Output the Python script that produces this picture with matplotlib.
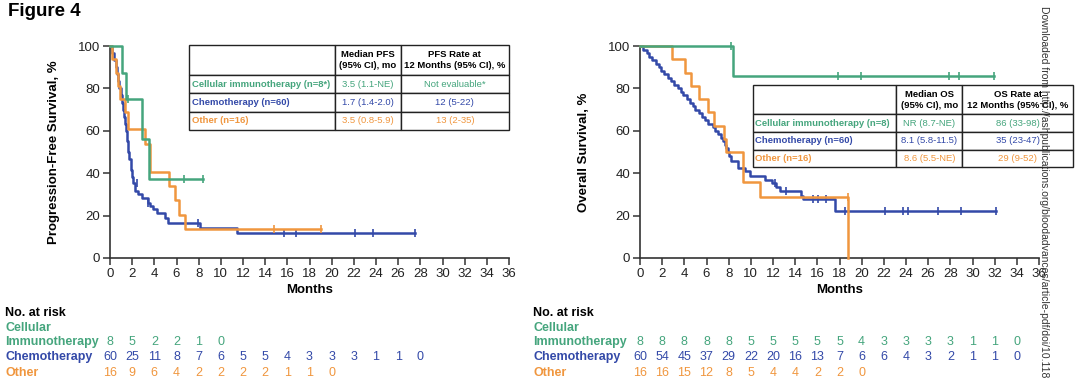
import numpy as np
import matplotlib.pyplot as plt
from matplotlib.table import Table
from matplotlib.transforms import blended_transform_factory

plt.rcParams['font.family'] = ['Liberation Sans', 'DejaVu Sans']

GREEN = '#45a57d'
BLUE = '#3349a8'
ORANGE = '#f0963e'

# ---- PFS (left) ----
pfs_ci_t = [0, 1.05, 1.4, 2.85, 3.5, 8.4]
pfs_ci_s = [100, 87.5, 75, 56.25, 37.5, 37.5]
pfs_ci_cens_t = [1.65, 6.7, 8.4]
pfs_ci_cens_s = [75, 37.5, 37.5]

pfs_ch_t = [0, 0.2, 0.35, 0.5, 0.6, 0.75, 0.85, 0.95, 1.05, 1.15, 1.25, 1.35, 1.45, 1.55, 1.65,
            1.75, 1.85, 1.95, 2.1, 2.25, 2.5, 2.9, 3.4, 3.6, 3.9, 4.25, 5.0, 5.25, 8.1, 11.5, 27.5]
pfs_ch_s = [100, 96.7, 93.3, 90, 86.7, 83.3, 80, 76.7, 73.3, 70, 66.7, 63.3, 60, 55, 50,
            46.7, 41.7, 38.3, 35.5, 31.7, 30, 28.3, 26, 24.5, 23, 21.4, 19, 16.7, 14.3, 11.9, 11.9]
pfs_ch_cens_t = [2.4, 3.4, 7.9, 15.7, 16.8, 22.1, 23.7, 27.5]
pfs_ch_cens_s = [35.5, 26, 16.7, 11.9, 11.9, 11.9, 11.9, 11.9]

pfs_ot_t = [0, 0.15, 0.5, 0.7, 0.9, 1.35, 1.6, 3.2, 3.6, 5.35, 5.9, 6.2, 6.8, 19.0]
pfs_ot_s = [100, 93.75, 87.5, 81.25, 75, 68.75, 61, 54, 40.5, 34, 27.5, 20.3, 13.5, 13.5]
pfs_ot_cens_t = [14.8, 19.0]
pfs_ot_cens_s = [13.5, 13.5]

# ---- OS (right) ----
os_ci_t = [0, 8.4, 31.9]
os_ci_s = [100, 85.7, 85.7]
os_ci_cens_t = [8.2, 17.9, 19.9, 27.9, 28.8, 31.9]
os_ci_cens_s = [100, 85.7, 85.7, 85.7, 85.7, 85.7]

os_ch_t = [0, 0.3, 0.6, 0.8, 1.1, 1.4, 1.7, 1.9, 2.2, 2.5,
           2.8, 3.1, 3.4, 3.7, 3.9, 4.2, 4.5, 4.8, 5.0, 5.3,
           5.6, 5.9, 6.1, 6.6, 6.8, 7.0, 7.3, 7.5, 7.7, 7.8,
           7.9, 8.0, 8.2, 8.85, 9.45, 9.9, 11.3, 11.9, 12.3, 12.6,
           14.5, 14.7, 17.6, 32.1]
os_ch_s = [100, 98.3, 96.7, 95, 93.3, 91.7, 90, 88.3, 86.7, 85,
           83.3, 81.7, 80, 78.3, 76.7, 75, 73.3, 71.7, 70, 68.3,
           66.7, 65, 63.3, 61.7, 60, 58.3, 56.7, 55, 53.3, 51.7,
           50, 48.3, 45.6, 42.5, 41, 38.6, 37, 35.5, 33.6, 31.5,
           29.2, 27.7, 22.2, 22.2]
os_ch_cens_t = [12.2, 13.2, 15.6, 16.1, 16.8, 18.5, 22.1, 23.7, 24.2, 26.9, 29.0, 32.1]
os_ch_cens_s = [35.5, 31.5, 27.7, 27.7, 27.7, 22.2, 22.2, 22.2, 22.2, 22.2, 22.2, 22.2]

os_ot_t = [0, 2.9, 4.1, 4.6, 5.3, 6.1, 6.7, 7.6, 7.8, 9.3, 10.8, 18.8]
os_ot_s = [100, 93.75, 87.5, 81.25, 75, 68.75, 62.5, 56.25, 50, 35.7, 28.6, 0]
os_ot_cens_t = [18.8]
os_ot_cens_s = [28.6]

# ---- numbers at risk ----
risk_months = list(range(0, 36, 2))
pfs_risk_ci = [8, 5, 2, 2, 1, 0]
pfs_risk_ch = [60, 25, 11, 8, 7, 6, 5, 5, 4, 3, 3, 3, 1, 1, 0]
pfs_risk_ot = [16, 9, 6, 4, 2, 2, 2, 2, 1, 1, 0]
os_risk_ci = [8, 8, 8, 8, 8, 5, 5, 5, 5, 5, 4, 3, 3, 3, 3, 1, 1, 0]
os_risk_ch = [60, 54, 45, 37, 29, 22, 20, 16, 13, 7, 6, 6, 4, 3, 2, 1, 1, 0]
os_risk_ot = [16, 16, 15, 12, 8, 5, 4, 4, 2, 2, 0]

# ---- tables ----
pfs_table = [['', 'Median PFS\n(95% CI), mo', 'PFS Rate at\n12 Months (95% CI), %'],
             ['Cellular immunotherapy (n=8*)', '3.5 (1.1-NE)', 'Not evaluable*'],
             ['Chemotherapy (n=60)', '1.7 (1.4-2.0)', '12 (5-22)'],
             ['Other (n=16)', '3.5 (0.8-5.9)', '13 (2-35)']]
os_table = [['', 'Median OS\n(95% CI), mo', 'OS Rate at\n12 Months (95% CI), %'],
            ['Cellular immunotherapy (n=8)', 'NR (8.7-NE)', '86 (33-98)'],
            ['Chemotherapy (n=60)', '8.1 (5.8-11.5)', '35 (23-47)'],
            ['Other (n=16)', '8.6 (5.5-NE)', '29 (9-52)']]
row_colors = [GREEN, BLUE, ORANGE]


def style_axes(ax, ylabel):
    ax.set_xlim(0, 36)
    ax.set_ylim(0, 100)
    ax.set_xticks(np.arange(0, 37, 2))
    ax.set_yticks(np.arange(0, 101, 20))
    ax.spines['top'].set_visible(False)
    ax.spines['right'].set_visible(False)
    for sp in ['left', 'bottom']:
        ax.spines[sp].set_linewidth(1.2)
        ax.spines[sp].set_color('#333333')
    ax.tick_params(direction='out', length=5, width=1.1, color='#333333',
                   labelsize=9.5, labelcolor='#222222', pad=2)
    ax.set_xlabel('Months', fontweight='bold', fontsize=9.5, labelpad=3)
    ax.set_ylabel(ylabel, fontweight='bold', fontsize=9.5)
    ax.yaxis.set_label_coords(-0.125, 0.5)


def draw_curve(ax, t, s, ct, cs, color):
    ax.step(t, s, where='post', color=color, lw=1.8, clip_on=False, zorder=3)
    ax.plot(ct, cs, ls='none', marker='|', ms=6, mew=1.2, color=color,
            clip_on=False, zorder=3)


def add_table(ax, rows, bbox, col_w):
    tab = Table(ax, bbox=bbox)
    tab.auto_set_font_size(False)
    heights = [1.64, 1, 1, 1]
    for r, row in enumerate(rows):
        for c, txt in enumerate(row):
            cell = tab.add_cell(r, c, width=col_w[c], height=heights[r], text=txt,
                                loc='left' if c == 0 else 'center',
                                facecolor='white', edgecolor='#222222')
            cell.set_linewidth(1.0)
            if c == 0:
                cell.PAD = 0.02
            color = 'black' if r == 0 else row_colors[r - 1]
            bold = (r == 0) or (c == 0)
            cell.get_text().set(fontsize=6.8, color=color,
                                fontweight='bold' if bold else 'normal',
                                linespacing=1.3)
    tab.set_zorder(5)
    ax.add_table(tab)


fig = plt.figure(figsize=(10.8, 3.86), dpi=100)
axL = fig.add_axes([110 / 1080, 1 - 258 / 386, 399 / 1080, 212 / 386])
axR = fig.add_axes([640 / 1080, 1 - 258 / 386, 399 / 1080, 212 / 386])

style_axes(axL, 'Progression-Free Survival, %')
style_axes(axR, 'Overall Survival, %')

draw_curve(axL, pfs_ch_t, pfs_ch_s, pfs_ch_cens_t, pfs_ch_cens_s, BLUE)
draw_curve(axL, pfs_ot_t, pfs_ot_s, pfs_ot_cens_t, pfs_ot_cens_s, ORANGE)
draw_curve(axL, pfs_ci_t, pfs_ci_s, pfs_ci_cens_t, pfs_ci_cens_s, GREEN)

draw_curve(axR, os_ch_t, os_ch_s, os_ch_cens_t, os_ch_cens_s, BLUE)
draw_curve(axR, os_ot_t, os_ot_s, os_ot_cens_t, os_ot_cens_s, ORANGE)
draw_curve(axR, os_ci_t, os_ci_s, os_ci_cens_t, os_ci_cens_s, GREEN)

add_table(axL, pfs_table, [0.197, 0.604, 0.803, 0.401], [146, 66, 108])
add_table(axR, os_table, [0.282, 0.428, 0.804, 0.387], [144, 66, 111])

# numbers at risk
row_y = {'head': 1 - 313 / 386, 'cell': 1 - 328 / 386, 'imm': 1 - 342 / 386,
         'chemo': 1 - 357 / 386, 'other': 1 - 373 / 386}
for ax, x0, risks in [(axL, 5, (pfs_risk_ci, pfs_risk_ch, pfs_risk_ot)),
                      (axR, 533, (os_risk_ci, os_risk_ch, os_risk_ot))]:
    fx = x0 / 1080
    fig.text(fx, row_y['head'], 'No. at risk', fontweight='bold', fontsize=9, va='center')
    fig.text(fx, row_y['cell'], 'Cellular', fontweight='bold', fontsize=9, va='center', color=GREEN)
    fig.text(fx, row_y['imm'], 'Immunotherapy', fontweight='bold', fontsize=9, va='center', color=GREEN)
    fig.text(fx, row_y['chemo'], 'Chemotherapy', fontweight='bold', fontsize=9, va='center', color=BLUE)
    fig.text(fx, row_y['other'], 'Other', fontweight='bold', fontsize=9, va='center', color=ORANGE)
    tr = blended_transform_factory(ax.transData, fig.transFigure)
    for key, vals, col in [('imm', risks[0], GREEN), ('chemo', risks[1], BLUE),
                           ('other', risks[2], ORANGE)]:
        for m, n in zip(risk_months, vals):
            ax.text(m, row_y[key], str(n), transform=tr, ha='center', va='center',
                    fontsize=9, color=col)

fig.text(8 / 1080, 1 - 12 / 386, 'Figure 4', fontsize=13.5, fontweight='bold', va='center')
fig.text(1044 / 1080, 1 - 6 / 386,
         'Downloaded from http://ashpublications.org/bloodadvances/article-pdf/doi/10.118',
         rotation=-90, ha='center', va='top', fontsize=7.5, color='#333333', zorder=10)

fig.savefig('out.png', dpi=100)
